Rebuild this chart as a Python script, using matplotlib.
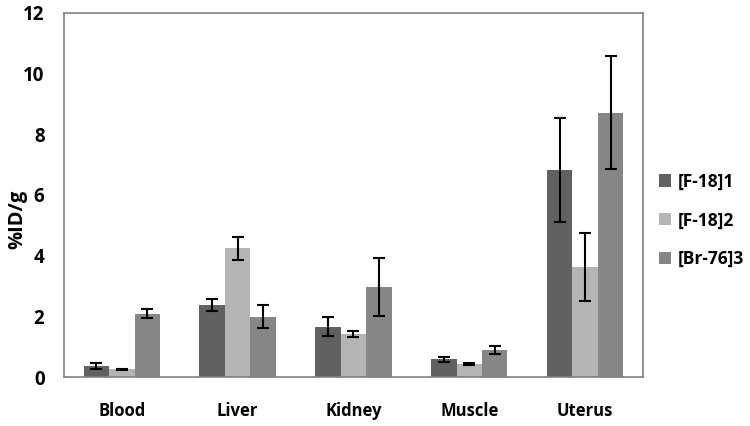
import matplotlib.pyplot as plt
import numpy as np

organs = ["Blood", "Liver", "Kidney", "Muscle", "Uterus"]
series = ["[F-18]1", "[F-18]2", "[Br-76]3"]

f18_1 = [0.36, 2.38, 1.66, 0.58, 6.82]
f18_1_err = [0.10, 0.19, 0.31, 0.08, 1.72]
f18_2 = [0.25, 4.24, 1.42, 0.42, 3.64]
f18_2_err = [0.02, 0.38, 0.09, 0.03, 1.12]
br76_3 = [2.08, 1.99, 2.96, 0.89, 8.71]
br76_3_err = [0.15, 0.38, 0.96, 0.14, 1.87]

colors = ["#616161", "#b4b4b4", "#868686"]


def main() -> None:
    plt.rcParams["font.family"] = ["Open Sans", "DejaVu Sans"]
    fig = plt.figure(figsize=(7.5, 4.26), dpi=100)
    ax = fig.add_axes([0.0853, 0.115, 0.772, 0.855])

    x = np.arange(len(organs))
    width = 0.22
    values = [f18_1, f18_2, br76_3]
    errors = [f18_1_err, f18_2_err, br76_3_err]
    for i, (vals, errs) in enumerate(zip(values, errors)):
        ax.bar(x + (i - 1) * width, vals, width, yerr=errs, color=colors[i],
               label=series[i], capsize=4,
               error_kw={"elinewidth": 1.5, "capthick": 1.5, "ecolor": "black"})

    ax.set_xlim(-0.5, len(organs) - 0.5)
    ax.set_ylim(0, 12)
    ax.set_yticks(range(0, 13, 2))
    ax.set_xticks(x)
    ax.set_xticklabels(organs, fontsize=12, fontweight="bold")
    ax.tick_params(axis="y", labelsize=13.5, length=0, pad=14)
    ax.tick_params(axis="x", length=0, pad=18)
    for lab in ax.get_yticklabels():
        lab.set_fontweight("bold")
    fig.text(17 / 750, 0.486, "%ID/g", rotation=90, fontsize=14.5,
             fontweight="bold", ha="center", va="center")
    for s in ax.spines.values():
        s.set_color("#808080")
        s.set_linewidth(1.2)

    ax.legend(loc="center left", bbox_to_anchor=(1.0, 0.43), frameon=False,
              prop={"size": 12.5, "weight": "bold"}, handlelength=0.7,
              handleheight=0.7, labelspacing=1.2, handletextpad=0.4)

    fig.savefig("out.png", dpi=100)


if __name__ == "__main__":
    main()
